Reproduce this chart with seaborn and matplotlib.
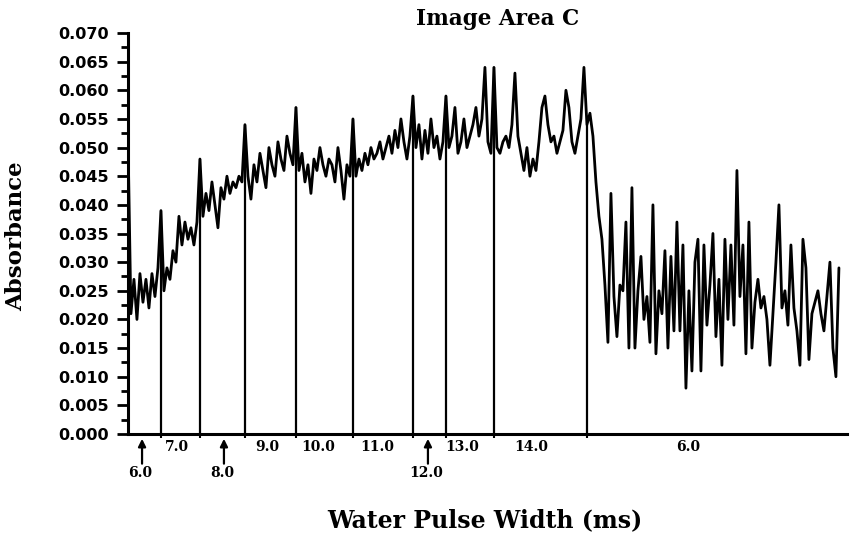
import numpy as np
import pandas as pd
import matplotlib
matplotlib.use("Agg")
import matplotlib.pyplot as plt
from matplotlib.ticker import FormatStrFormatter, MultipleLocator
import seaborn as sns

# ---- data: absorbance trace, one list per water-pulse-width segment ----
seg_6a = [0.052, 0.021, 0.027, 0.020, 0.028, 0.023, 0.027, 0.022, 0.028, 0.024, 0.029]
seg_7 = [0.039, 0.025, 0.029, 0.027, 0.032, 0.030, 0.038, 0.033, 0.037, 0.034, 0.036,
         0.033, 0.037]
seg_8 = [0.048, 0.038, 0.042, 0.039, 0.044, 0.040, 0.036, 0.043, 0.041, 0.045, 0.042,
         0.044, 0.043, 0.045, 0.044]
seg_9 = [0.054, 0.045, 0.041, 0.047, 0.044, 0.049, 0.046, 0.043, 0.050, 0.047, 0.045,
         0.051, 0.048, 0.046, 0.052, 0.049, 0.047]
seg_10 = [0.057, 0.046, 0.049, 0.044, 0.047, 0.042, 0.048, 0.046, 0.050, 0.047, 0.045,
          0.048, 0.047, 0.044, 0.050, 0.046, 0.041, 0.047, 0.045]
seg_11 = [0.055, 0.045, 0.048, 0.046, 0.049, 0.047, 0.050, 0.048, 0.049, 0.051, 0.048,
          0.050, 0.052, 0.049, 0.053, 0.050, 0.055, 0.051, 0.048, 0.052]
seg_12 = [0.059, 0.050, 0.054, 0.048, 0.053, 0.049, 0.055, 0.050, 0.052, 0.048, 0.051]
seg_13 = [0.059, 0.050, 0.052, 0.057, 0.049, 0.051, 0.055, 0.050, 0.052, 0.054, 0.057,
          0.052, 0.055, 0.064, 0.051, 0.049]
seg_14 = [0.064, 0.050, 0.049, 0.051, 0.052, 0.050, 0.054, 0.063, 0.052, 0.049, 0.046,
          0.050, 0.045, 0.048, 0.046, 0.051, 0.057, 0.059, 0.054, 0.051, 0.052, 0.049,
          0.051, 0.053, 0.060, 0.057, 0.051, 0.049, 0.052, 0.055, 0.064]
seg_6b = [0.054, 0.056, 0.052, 0.044, 0.038, 0.034, 0.026, 0.016, 0.042, 0.024, 0.017,
          0.026, 0.025, 0.037, 0.015, 0.043, 0.015, 0.025, 0.031, 0.020, 0.024, 0.016,
          0.040, 0.014, 0.025, 0.021, 0.032, 0.015, 0.031, 0.018, 0.037, 0.018, 0.033,
          0.008, 0.025, 0.011, 0.030, 0.034, 0.011, 0.033, 0.019, 0.026, 0.035, 0.017,
          0.027, 0.012, 0.034, 0.020, 0.033, 0.019, 0.046, 0.024, 0.033, 0.014, 0.037,
          0.015, 0.023, 0.027, 0.022, 0.024, 0.020, 0.012, 0.021, 0.030, 0.040, 0.022,
          0.025, 0.019, 0.033, 0.022, 0.018, 0.012, 0.034, 0.029, 0.013, 0.021, 0.023,
          0.025, 0.021, 0.018, 0.024, 0.030, 0.015, 0.010, 0.029]

segments = [seg_6a, seg_7, seg_8, seg_9, seg_10, seg_11, seg_12, seg_13, seg_14, seg_6b]
segment_labels = ["6.0", "7.0", "8.0", "9.0", "10.0", "11.0", "12.0", "13.0", "14.0", "6.0"]
segment_arrow = [True, False, True, False, False, False, True, False, False, False]

# ---- layout (label positions in scan units) ----
label_pos = [4.7, 16.3, 32.0, 46.3, 63.3, 83.0, 100.0, 111.3, 134.3, 186.7]

absorbance = np.concatenate([np.asarray(s, dtype=float) for s in segments])
scan = np.arange(len(absorbance))
starts = np.cumsum([0] + [len(s) for s in segments[:-1]])
df = pd.DataFrame({"scan": scan, "Absorbance": absorbance})

sns.set_style("ticks")
plt.rcParams["font.family"] = ["DejaVu Sans"]
plt.rcParams["text.color"] = "black"
plt.rcParams["axes.labelcolor"] = "black"
plt.rcParams["xtick.color"] = "black"
plt.rcParams["ytick.color"] = "black"

fig = plt.figure(figsize=(8.53, 5.35), dpi=100)
ax = fig.add_axes([0.150, 0.1888, 0.843, 0.7495])

sns.lineplot(data=df, x="scan", y="Absorbance", color="black", lw=2.0, ax=ax,
             estimator=None)
ax.vlines(starts, 0, absorbance[starts], color="black", lw=1.6)

ax.set_xlim(0, 239.7)
ax.set_ylim(0, 0.070)
ax.set_xlabel("")
ax.set_ylabel("")

for s in ["top", "right"]:
    ax.spines[s].set_visible(False)
for s in ["left", "bottom"]:
    ax.spines[s].set_linewidth(2.2)
    ax.spines[s].set_color("black")

ax.yaxis.set_major_locator(MultipleLocator(0.005))
ax.yaxis.set_minor_locator(MultipleLocator(0.0025))
ax.yaxis.set_major_formatter(FormatStrFormatter("%.3f"))
ax.tick_params(axis="y", which="major", length=8, width=2, pad=6, labelsize=11.5,
               direction="out", colors="black")
ax.tick_params(axis="y", which="minor", length=5, width=2, direction="out")
for lab in ax.get_yticklabels():
    lab.set_fontweight("bold")
    lab.set_color("black")

ax.set_xticks(starts[1:])
ax.set_xticklabels([])
ax.tick_params(axis="x", which="major", length=3, width=1.5, direction="out")

serif = "DejaVu Serif"
trans = ax.get_xaxis_transform()
for lab, pos, arrow in zip(segment_labels, label_pos, segment_arrow):
    if arrow:
        ax.annotate("", xy=(pos, -0.012), xycoords=trans,
                    xytext=(pos, -0.074), textcoords=trans,
                    arrowprops=dict(arrowstyle="-|>", color="black", lw=1.6,
                                    mutation_scale=11, shrinkA=0, shrinkB=0))
        ax.text(pos - 0.5, -0.098, lab, transform=trans, ha="center", va="center",
                fontsize=10, fontweight="bold", family=serif, color="black")
    else:
        ax.text(pos, -0.032, lab, transform=trans, ha="center", va="center",
                fontsize=10, fontweight="bold", family=serif, color="black")

fig.text(498 / 853, 1 - 25 / 535, "Image Area C", ha="center", va="baseline",
         fontsize=15.5, fontweight="bold", family=serif, color="black")
fig.text(485 / 853, 1 - 527 / 535, "Water Pulse Width (ms)", ha="center",
         va="baseline", fontsize=17, fontweight="bold", family=serif, color="black")
fig.text(16 / 853, 1 - 236 / 535, "Absorbance", ha="center", va="center",
         rotation=90, fontsize=16.5, fontweight="bold", family=serif, color="black")

fig.savefig("out.png", dpi=100)
